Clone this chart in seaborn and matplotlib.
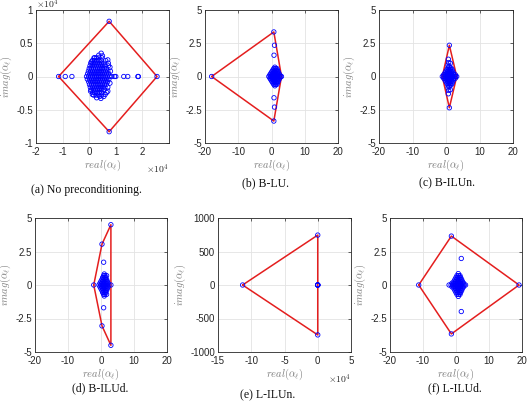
import numpy as np
import pandas as pd
import matplotlib
matplotlib.use("Agg")
import matplotlib.pyplot as plt
import seaborn as sns
from matplotlib.ticker import FuncFormatter

sns.set_style("white")
plt.rcParams['font.family'] = ['Liberation Sans', 'DejaVu Sans']
plt.rcParams['mathtext.fontset'] = 'cm'
plt.rcParams['axes.unicode_minus'] = False

# ---------------- data (eigenvalues: real, imag) ----------------
# (a) No preconditioning, values in units of 1e4
A_SCALE = 1e4
a_eigs = [
    (-1.15, 0), (-0.9, 0), (-0.65, 0), (0.75, 0.83), (0.75, -0.83), (2.55, 0),
    (1.85, 0), (1.83, 0), (1.45, 0), (1.3, 0), (1.0, 0), (0.95, 0),
    (0.45, 0.35), (0.5, 0.31), (0.36, 0.32), (0.7, 0.25), (0.72, 0.2), (0.78, 0.14),
    (0.8, 0.08), (0.2, 0.28), (0.08, 0.22), (0.44, -0.33), (0.4, -0.3), (0.28, -0.32),
    (0.6, -0.27), (0.7, -0.22), (0.12, -0.27), (0.05, -0.22), (0.78, -0.1), (0.55, -0.3),
    (-0.10, 0), (-0.02, 0), (0.06, 0), (0.13, 0), (0.21, 0), (0.28, 0), (0.36, 0),
    (0.44, 0), (0.52, 0), (0.60, 0), (0.68, 0), (0.77, 0), (0.85, 0),
    (-0.06, 0.04), (0.02, 0.04), (0.10, 0.04), (0.18, 0.04), (0.25, 0.04), (0.33, 0.04),
    (0.41, 0.04), (0.49, 0.04), (0.57, 0.04), (0.65, 0.04), (0.73, 0.04),
    (-0.07, -0.04), (0.01, -0.04), (0.09, -0.04), (0.17, -0.04), (0.26, -0.04),
    (0.34, -0.04), (0.42, -0.04), (0.50, -0.04), (0.58, -0.04), (0.66, -0.04), (0.74, -0.04),
    (-0.03, 0.08), (0.05, 0.08), (0.13, 0.08), (0.21, 0.08), (0.29, 0.08), (0.37, 0.08),
    (0.45, 0.08), (0.53, 0.08), (0.61, 0.08), (0.70, 0.08),
    (-0.02, -0.08), (0.06, -0.08), (0.14, -0.08), (0.22, -0.08), (0.30, -0.08),
    (0.38, -0.08), (0.46, -0.08), (0.54, -0.08), (0.62, -0.08), (0.69, -0.08),
    (0.00, 0.12), (0.08, 0.12), (0.16, 0.12), (0.24, 0.12), (0.32, 0.12), (0.40, 0.12),
    (0.48, 0.12), (0.56, 0.12), (0.65, 0.12),
    (0.01, -0.12), (0.09, -0.12), (0.17, -0.12), (0.25, -0.12), (0.33, -0.12),
    (0.41, -0.12), (0.49, -0.12), (0.57, -0.12), (0.64, -0.12),
    (0.03, 0.16), (0.11, 0.16), (0.19, 0.16), (0.27, 0.16), (0.35, 0.16), (0.43, 0.16),
    (0.51, 0.16), (0.60, 0.16), (0.72, 0.16),
    (0.04, -0.16), (0.12, -0.16), (0.20, -0.16), (0.28, -0.16), (0.36, -0.16),
    (0.44, -0.16), (0.52, -0.16), (0.59, -0.16), (0.70, -0.16),
    (0.06, 0.20), (0.14, 0.20), (0.22, 0.20), (0.30, 0.20), (0.38, 0.20), (0.46, 0.20),
    (0.55, 0.20),
    (0.07, -0.20), (0.15, -0.20), (0.23, -0.20), (0.31, -0.20), (0.39, -0.20),
    (0.47, -0.20), (0.56, -0.20),
    (0.12, 0.24), (0.20, 0.24), (0.29, 0.24), (0.37, 0.24), (0.45, 0.24), (0.62, 0.24),
    (0.13, -0.24), (0.21, -0.24), (0.30, -0.24), (0.38, -0.24), (0.46, -0.24), (0.66, -0.24),
    (0.18, 0.28), (0.27, 0.28), (0.36, 0.28), (0.48, 0.28),
    (0.17, -0.28), (0.26, -0.28), (0.35, -0.28), (0.47, -0.28)]

# (b) B-LU
b_eigs = [
    (-18, 0), (0.7, 3.35), (0.7, -3.35), (0.9, 2.35), (0.9, -2.3), (0.75, 1.6),
    (0.75, -1.6), (3.0, 0),
    (-0.8, 0), (-0.3, 0), (0.2, 0), (0.7, 0), (1.2, 0), (1.7, 0), (2.2, 0), (2.7, 0),
    (-0.5, 0.12), (0.0, 0.12), (0.5, 0.12), (1.0, 0.12), (1.5, 0.12), (2.0, 0.12), (2.5, 0.12),
    (-0.5, -0.12), (0.0, -0.12), (0.5, -0.12), (1.0, -0.12), (1.5, -0.12), (2.0, -0.12),
    (2.5, -0.12),
    (-0.2, 0.24), (0.3, 0.24), (0.8, 0.24), (1.3, 0.24), (1.8, 0.24), (2.2, 0.24),
    (-0.2, -0.24), (0.3, -0.24), (0.8, -0.24), (1.3, -0.24), (1.8, -0.24), (2.2, -0.24),
    (0.1, 0.36), (0.6, 0.36), (1.1, 0.36), (1.6, 0.36), (2.0, 0.36),
    (0.1, -0.36), (0.6, -0.36), (1.1, -0.36), (1.6, -0.36), (2.0, -0.36),
    (0.4, 0.48), (0.9, 0.48), (1.4, 0.48), (1.8, 0.48),
    (0.4, -0.48), (0.9, -0.48), (1.4, -0.48), (1.8, -0.48),
    (0.7, 0.6), (1.2, 0.6), (1.6, 0.6), (0.7, -0.6), (1.2, -0.6), (1.6, -0.6),
    (1.0, 0.7), (1.0, -0.7)]

# (c) B-ILUn
c_eigs = [
    (1.0, 2.35), (1.0, -2.35), (0.7, 1.3), (0.7, -1.3), (0.8, 1.05), (0.8, -1.05),
    (0.6, 0.85), (0.6, -0.85), (1.3, 1.0), (1.3, -1.0),
    (-1.1, 0), (-0.6, 0), (-0.1, 0), (0.4, 0), (0.9, 0), (1.4, 0), (1.9, 0), (2.4, 0),
    (2.9, 0), (3.2, 0),
    (-0.7, 0.13), (-0.2, 0.13), (0.3, 0.13), (0.8, 0.13), (1.3, 0.13), (1.8, 0.13),
    (2.3, 0.13), (2.8, 0.13),
    (-0.7, -0.13), (-0.2, -0.13), (0.3, -0.13), (0.8, -0.13), (1.3, -0.13), (1.8, -0.13),
    (2.3, -0.13), (2.8, -0.13),
    (-0.3, 0.26), (0.2, 0.26), (0.7, 0.26), (1.2, 0.26), (1.7, 0.26), (2.2, 0.26),
    (-0.3, -0.26), (0.2, -0.26), (0.7, -0.26), (1.2, -0.26), (1.7, -0.26), (2.2, -0.26),
    (0.0, 0.39), (0.5, 0.39), (1.0, 0.39), (1.5, 0.39), (2.0, 0.39),
    (0.0, -0.39), (0.5, -0.39), (1.0, -0.39), (1.5, -0.39), (2.0, -0.39),
    (0.3, 0.52), (0.8, 0.52), (1.3, 0.52), (1.8, 0.52),
    (0.3, -0.52), (0.8, -0.52), (1.3, -0.52), (1.8, -0.52),
    (0.6, 0.65), (1.1, 0.65), (1.5, 0.65), (0.6, -0.65), (1.1, -0.65), (1.5, -0.65),
    (0.9, 0.75), (0.9, -0.75)]

# (d) B-ILUd
d_eigs = [
    (-2.2, 0), (0.3, 3.05), (0.3, -3.05), (3.0, 4.5), (3.0, -4.5), (3.0, 0),
    (0.8, 1.7), (0.8, -1.7), (1.7, 0.7), (1.7, -0.7),
    (-0.6, 0), (-0.1, 0), (0.4, 0), (0.9, 0), (1.4, 0), (1.9, 0), (2.4, 0),
    (-0.3, 0.14), (0.2, 0.14), (0.7, 0.14), (1.2, 0.14), (1.7, 0.14), (2.1, 0.14),
    (-0.3, -0.14), (0.2, -0.14), (0.7, -0.14), (1.2, -0.14), (1.7, -0.14), (2.1, -0.14),
    (0.0, 0.28), (0.5, 0.28), (1.0, 0.28), (1.5, 0.28), (1.9, 0.28),
    (0.0, -0.28), (0.5, -0.28), (1.0, -0.28), (1.5, -0.28), (1.9, -0.28),
    (0.3, 0.42), (0.8, 0.42), (1.3, 0.42), (1.7, 0.42),
    (0.3, -0.42), (0.8, -0.42), (1.3, -0.42), (1.7, -0.42),
    (0.5, 0.56), (1.0, 0.56), (1.4, 0.56), (0.5, -0.56), (1.0, -0.56), (1.4, -0.56),
    (0.8, 0.7), (1.2, 0.7), (0.8, -0.7), (1.2, -0.7), (1.0, 0.82), (1.0, -0.82)]

# (e) L-ILUn, raw units
e_eigs = [(-113000, 0), (0, 745), (0, -745), (0, 0), (2, 0.5), (1, -0.5), (3, 0), (-1, 0)]

# (f) L-ILUd
f_eigs = [
    (-11.3, 0), (-1.4, 3.65), (-1.4, -3.65), (19.1, 0), (1.6, 1.98), (1.6, -1.98),
    (-2.1, 0), (-1.5, 0), (-1.0, 0), (-0.5, 0), (0.0, 0), (0.5, 0), (1.0, 0), (1.5, 0),
    (2.0, 0), (2.5, 0), (2.9, 0),
    (-1.2, 0.14), (-0.7, 0.14), (-0.2, 0.14), (0.3, 0.14), (0.8, 0.14), (1.3, 0.14),
    (1.8, 0.14), (2.3, 0.14),
    (-1.2, -0.14), (-0.7, -0.14), (-0.2, -0.14), (0.3, -0.14), (0.8, -0.14), (1.3, -0.14),
    (1.8, -0.14), (2.3, -0.14),
    (-0.6, 0.28), (-0.1, 0.28), (0.4, 0.28), (0.9, 0.28), (1.4, 0.28), (1.9, 0.28),
    (-0.6, -0.28), (-0.1, -0.28), (0.4, -0.28), (0.9, -0.28), (1.4, -0.28), (1.9, -0.28),
    (-0.3, 0.42), (0.2, 0.42), (0.7, 0.42), (1.2, 0.42), (1.7, 0.42),
    (-0.3, -0.42), (0.2, -0.42), (0.7, -0.42), (1.2, -0.42), (1.7, -0.42),
    (0.0, 0.56), (0.5, 0.56), (1.0, 0.56), (1.4, 0.56),
    (0.0, -0.56), (0.5, -0.56), (1.0, -0.56), (1.4, -0.56),
    (0.3, 0.7), (0.8, 0.7), (1.2, 0.7), (0.3, -0.7), (0.8, -0.7), (1.2, -0.7),
    (0.7, 0.85), (0.7, -0.85)]

captions = ["(a) No preconditioning.", "(b) B-LU.", "(c) B-ILUn.",
            "(d) B-ILUd.", "(e) L-ILUn.", "(f) L-ILUd."]

std_ticks_x = [-20, -10, 0, 10, 20]
std_ticks_y = [-5, -2.5, 0, 2.5, 5]

# ---------------- helpers ----------------
def convex_hull(pts):
    pts = sorted(set(pts))
    def cross(o, a, b):
        return (a[0] - o[0]) * (b[1] - o[1]) - (a[1] - o[1]) * (b[0] - o[0])
    lower, upper = [], []
    for p in pts:
        while len(lower) >= 2 and cross(lower[-2], lower[-1], p) <= 0:
            lower.pop()
        lower.append(p)
    for p in reversed(pts):
        while len(upper) >= 2 and cross(upper[-2], upper[-1], p) <= 0:
            upper.pop()
        upper.append(p)
    h = lower[:-1] + upper[:-1]
    return h + [h[0]]

W, H = 528, 405
fig = plt.figure(figsize=(W / 100, H / 100), dpi=100)

def add_ax(l, r, t, b):
    return fig.add_axes([l / W, 1 - b / H, (r - l) / W, (b - t) / H])

RED = '#e41e1e'
BLUE = '#0000ff'
TXT = '#262626'
TICK_FS = 7

def draw(ax, eigs, xscale=1.0, yscale=1.0):
    re = [p[0] * xscale for p in eigs]
    im = [p[1] * yscale for p in eigs]
    df = pd.DataFrame({'re': re, 'im': im})
    hull = convex_hull(list(zip(re, im)))
    hdf = pd.DataFrame({'x': [p[0] for p in hull], 'y': [p[1] for p in hull]})
    sns.lineplot(data=hdf, x='x', y='y', sort=False, estimator=None, color=RED,
                 lw=1.1, ax=ax, zorder=2)
    sns.scatterplot(data=df, x='re', y='im', marker='o', s=10, facecolors='none',
                    edgecolors=BLUE, linewidth=0.6, ax=ax, zorder=3)
    ax.set_xlabel(r'$real(\alpha_\ell)$', color='#7f7f7f', fontsize=7.5, labelpad=0.5)
    ax.set_ylabel(r'$imag(\alpha_\ell)$', color='#7f7f7f', fontsize=7.5, labelpad=1.5)
    ax.grid(True, color='#e3e3e3', lw=0.6)
    ax.set_axisbelow(True)
    ax.tick_params(direction='in', top=True, right=True, length=2.5, width=0.5,
                   labelsize=TICK_FS, labelcolor=TXT, color=TXT)
    ax.tick_params(axis='x', pad=3.2)
    ax.tick_params(axis='y', pad=2.2)
    for s in ax.spines.values():
        s.set_color(TXT)
        s.set_linewidth(0.6)

fmt_g = FuncFormatter(lambda v, p: f'{v:g}')
fmt_e4 = FuncFormatter(lambda v, p: f'{v / 1e4:g}')

def std_axes(ax):
    ax.set_xlim(-20, 20); ax.set_ylim(-5, 5)
    ax.set_xticks(std_ticks_x); ax.set_yticks(std_ticks_y)
    ax.xaxis.set_major_formatter(fmt_g); ax.yaxis.set_major_formatter(fmt_g)

# (a)
ax = add_ax(36, 169, 10, 143)
draw(ax, a_eigs, A_SCALE, A_SCALE)
ax.set_xlim(-2e4, 3e4); ax.set_ylim(-1e4, 1e4)
ax.set_xticks([-2e4, -1e4, 0, 1e4, 2e4]); ax.set_yticks([-1e4, -0.5e4, 0, 0.5e4, 1e4])
ax.xaxis.set_major_formatter(fmt_e4); ax.yaxis.set_major_formatter(fmt_e4)
ax.text(0, 0.995, r'$\times10^4$', transform=ax.transAxes, ha='left', va='bottom',
        fontsize=TICK_FS, color=TXT)
ax.text(1.0, -0.15, r'$\times10^4$', transform=ax.transAxes, ha='right', va='top',
        fontsize=TICK_FS, color=TXT)

# (b)
ax = add_ax(205, 338, 10, 143)
draw(ax, b_eigs)
std_axes(ax)

# (c)
ax = add_ax(379, 513, 10, 143)
draw(ax, c_eigs)
std_axes(ax)

# (d)
ax = add_ax(35, 167, 218, 352)
draw(ax, d_eigs)
std_axes(ax)

# (e)
ax = add_ax(218, 351, 218, 352)
draw(ax, e_eigs)
ax.set_xlim(-15e4, 5e4); ax.set_ylim(-1000, 1000)
ax.set_xticks([-15e4, -10e4, -5e4, 0, 5e4]); ax.set_yticks([-1000, -500, 0, 500, 1000])
ax.xaxis.set_major_formatter(fmt_e4); ax.yaxis.set_major_formatter(fmt_g)
ax.text(1.0, -0.15, r'$\times10^4$', transform=ax.transAxes, ha='right', va='top',
        fontsize=TICK_FS, color=TXT)

# (f)
ax = add_ax(390, 522, 218, 352)
draw(ax, f_eigs)
std_axes(ax)

# captions
cap_pos = [(86, 190), (265, 183), (447, 183), (100, 388), (268, 395), (455, 388)]
for txt, (x, y) in zip(captions, cap_pos):
    fig.text(x / W, 1 - y / H, txt, ha='center', va='center', fontsize=8.5,
             family='Liberation Serif', color='#111111')

fig.savefig('out.png', dpi=100)
